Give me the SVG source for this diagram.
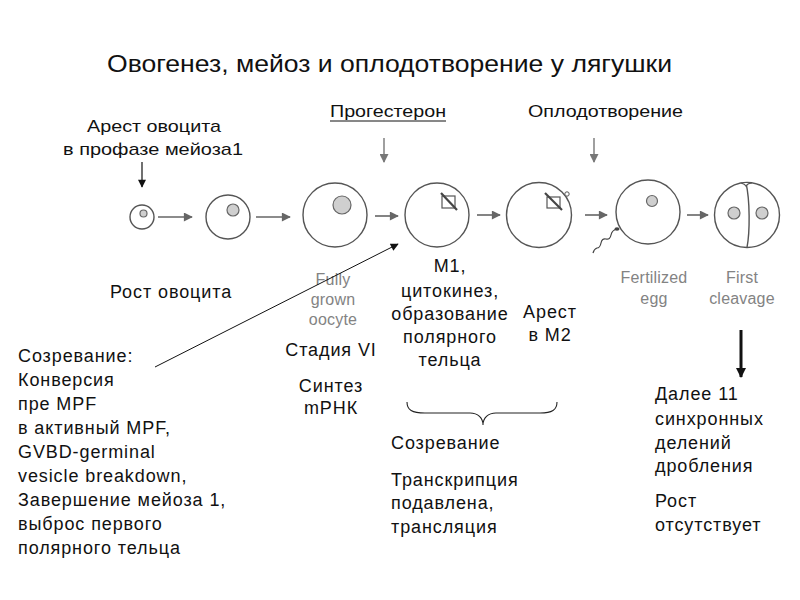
<svg xmlns="http://www.w3.org/2000/svg" width="800" height="600" viewBox="0 0 800 600">
<defs>
<style>
.t{font-family:"Liberation Sans",Arial,sans-serif;fill:#111;font-size:18px;letter-spacing:0.9px;}
.c{font-family:"Liberation Sans",Arial,sans-serif;fill:#111;}
.g{font-family:"Liberation Sans",Arial,sans-serif;fill:#838383;font-size:16px;letter-spacing:0.2px;}
.cell{fill:#fff;stroke:#555;stroke-width:1.4;}
.nuc{fill:#cfcfcf;stroke:#666;stroke-width:1.2;}
.ga{stroke:#666;stroke-width:1.6;fill:none;}
</style>
<marker id="gh" viewBox="0 0 10 10" refX="9" refY="5" markerWidth="14" markerHeight="9" markerUnits="userSpaceOnUse" orient="auto">
<path d="M0,0 L10,5 L0,10 z" fill="#666"/>
</marker>
<marker id="gv" viewBox="0 0 10 10" refX="9" refY="5" markerWidth="14" markerHeight="9" markerUnits="userSpaceOnUse" orient="auto">
<path d="M0,0 L10,5 L0,10 z" fill="#777"/>
</marker>
<marker id="bh" viewBox="0 0 10 10" refX="9" refY="5" markerWidth="10" markerHeight="8" markerUnits="userSpaceOnUse" orient="auto">
<path d="M0,0 L10,5 L0,10 z" fill="#111"/>
</marker>
<marker id="bt" viewBox="0 0 10 10" refX="9" refY="5" markerWidth="12" markerHeight="10" markerUnits="userSpaceOnUse" orient="auto">
<path d="M0,0 L10,5 L0,10 z" fill="#111"/>
</marker>
</defs>
<rect width="800" height="600" fill="#fff"/>

<text id="title" class="c" x="107" y="72" font-size="24" textLength="565" lengthAdjust="spacingAndGlyphs">Овогенез, мейоз и оплодотворение у лягушки</text>

<g id="label-arrest" class="c" font-size="17" text-anchor="middle">
<text x="154" y="132" textLength="134" lengthAdjust="spacingAndGlyphs">Арест овоцита</text>
<text x="153" y="155" textLength="180" lengthAdjust="spacingAndGlyphs">в профазе мейоза1</text>
</g>
<g id="label-progesterone" class="c" font-size="17">
<text x="330" y="117" textLength="116" lengthAdjust="spacingAndGlyphs">Прогестерон</text>
<line x1="330" y1="121" x2="446" y2="121" stroke="#111" stroke-width="1"/>
</g>
<g id="label-fertilization" class="c" font-size="17">
<text x="528" y="117" textLength="155" lengthAdjust="spacingAndGlyphs">Оплодотворение</text>
</g>

<g id="cell1">
<circle class="cell" cx="142" cy="217" r="12"/>
<circle class="nuc" cx="143.5" cy="213.5" r="3.5"/>
</g>
<g id="cell2">
<circle class="cell" cx="228" cy="217" r="22"/>
<circle class="nuc" cx="233" cy="210" r="6"/>
</g>
<g id="cell3">
<circle class="cell" cx="335" cy="215" r="32"/>
<circle class="nuc" cx="342" cy="205" r="9"/>
</g>
<g id="cell4">
<circle class="cell" cx="437" cy="215" r="32"/>
<rect x="442" y="196" width="13" height="12" fill="none" stroke="#555" stroke-width="1.2"/>
<line x1="441" y1="193" x2="457" y2="210" stroke="#444" stroke-width="2.2"/>
</g>
<g id="cell5">
<circle class="cell" cx="539" cy="215" r="32.5"/>
<rect x="547" y="197" width="13" height="11" fill="none" stroke="#555" stroke-width="1.2"/>
<line x1="545" y1="193" x2="562" y2="210" stroke="#444" stroke-width="2.2"/>
<circle cx="567" cy="194" r="2.2" fill="#fff" stroke="#555" stroke-width="1"/>
</g>
<g id="cell6">
<circle class="cell" cx="648" cy="212" r="32"/>
<circle class="nuc" cx="652" cy="201" r="5.5"/>
<path d="M617,229 q-5,1 -6,6 q-1,5 -5,4 q-4,-1 -5,4 q-1,5 -4,5 q-3,1 -4,5" fill="none" stroke="#444" stroke-width="1.2"/>
<ellipse cx="617" cy="229" rx="2.5" ry="1.8" fill="#444"/>
</g>
<g id="cell7">
<circle class="cell" cx="747" cy="215" r="32.5"/>
<path d="M746,183 C750,200 750,232 747,247.5" fill="none" stroke="#555" stroke-width="1.4"/>
<path d="M741,183 Q745,184 746,186 Q748,183 752,183" fill="#fff" stroke="#555" stroke-width="1.2"/>
<circle class="nuc" cx="734" cy="213" r="6"/>
<circle class="nuc" cx="762" cy="213" r="6"/>
</g>

<g id="cell-labels">
<text class="g" x="333" y="285" text-anchor="middle">Fully</text>
<text class="g" x="333" y="305" text-anchor="middle">grown</text>
<text class="g" x="333" y="325" text-anchor="middle">oocyte</text>
<text class="g" x="654" y="283" text-anchor="middle">Fertilized</text>
<text class="g" x="654" y="304" text-anchor="middle">egg</text>
<text class="g" x="742" y="283" text-anchor="middle">First</text>
<text class="g" x="742" y="304" text-anchor="middle">cleavage</text>
</g>

<g id="text-growth" class="t">
<text x="110" y="298">Рост овоцита</text>
</g>
<g id="text-m1" class="t" text-anchor="middle">
<text x="450" y="272">М1,</text>
<text x="450" y="297">цитокинез,</text>
<text x="450" y="320">образование</text>
<text x="450" y="343">полярного</text>
<text x="450" y="366">тельца</text>
</g>
<g id="text-m2" class="t" text-anchor="middle">
<text x="550" y="318">Арест</text>
<text x="550" y="341">в М2</text>
</g>
<g id="text-stage" class="t" text-anchor="middle">
<text x="331" y="356">Стадия VI</text>
<text x="331" y="392">Синтез</text>
<text x="331" y="414">mРНК</text>
</g>
<g id="text-maturation-left" class="t">
<text x="18" y="362">Созревание:</text>
<text x="18" y="386">Конверсия</text>
<text x="18" y="410">пре MPF</text>
<text x="18" y="434">в активный MPF,</text>
<text x="18" y="458">GVBD-germinal</text>
<text x="18" y="482">vesicle breakdown,</text>
<text x="18" y="506">Завершение мейоза 1,</text>
<text x="18" y="530">выброс первого</text>
<text x="18" y="554">полярного тельца</text>
</g>
<g id="text-maturation" class="t">
<text x="391" y="449">Созревание</text>
<text x="391" y="486">Транскрипция</text>
<text x="391" y="509">подавлена,</text>
<text x="391" y="533">трансляция</text>
</g>
<g id="text-cleavage" class="t">
<text x="655" y="400">Далее 11</text>
<text x="655" y="425">синхронных</text>
<text x="655" y="449">делений</text>
<text x="655" y="472">дробления</text>
<text x="655" y="507">Рост</text>
<text x="655" y="531">отсутствует</text>
</g>

<g id="connectors">
<line class="ga" x1="158" y1="217" x2="192" y2="217" marker-end="url(#gh)"/>
<line class="ga" x1="256" y1="217" x2="290" y2="217" marker-end="url(#gh)"/>
<line class="ga" x1="375" y1="216" x2="398" y2="216" marker-end="url(#gh)"/>
<line class="ga" x1="477" y1="215" x2="500" y2="215" marker-end="url(#gh)"/>
<line class="ga" x1="585" y1="215" x2="607" y2="215" marker-end="url(#gh)"/>
<line class="ga" x1="687" y1="215" x2="708" y2="215" marker-end="url(#gh)"/>
<line x1="384" y1="138" x2="384" y2="162" stroke="#777" stroke-width="1.4" marker-end="url(#gv)"/>
<line x1="594" y1="138" x2="594" y2="162" stroke="#777" stroke-width="1.4" marker-end="url(#gv)"/>
<line x1="142" y1="162" x2="142" y2="187" stroke="#111" stroke-width="1.2" marker-end="url(#bh)"/>
<line x1="155" y1="367" x2="398" y2="244" stroke="#111" stroke-width="1" marker-end="url(#bh)"/>
<line x1="741" y1="330" x2="741" y2="377" stroke="#111" stroke-width="3" marker-end="url(#bt)"/>
<path d="M407,402 C407,410 412,413 425,413 L470,413 C478,413 483,418 483,425 C483,418 488,413 496,413 L540,413 C552,413 557,410 557,402" fill="none" stroke="#222" stroke-width="1.1"/>
</g>
</svg>
